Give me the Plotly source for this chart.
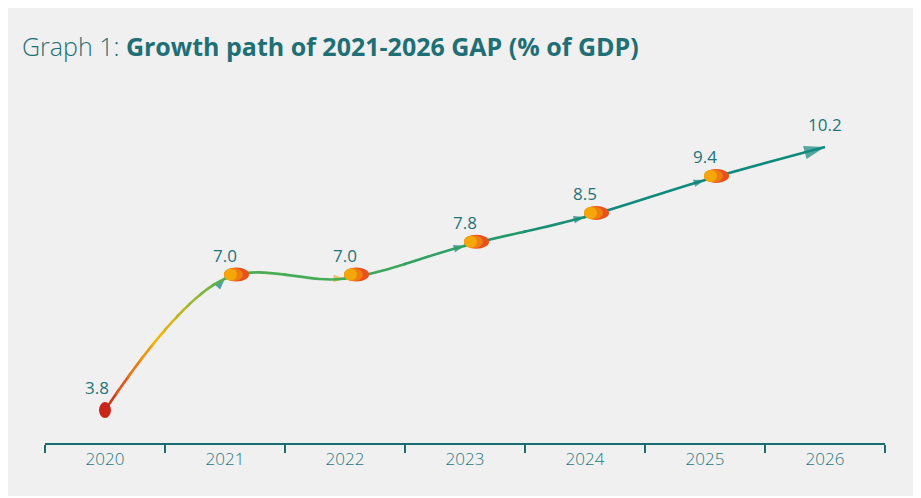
import plotly.graph_objects as go

# ---------------- data ----------------
years = ["2020", "2021", "2022", "2023", "2024", "2025", "2026"]
gap = [3.8, 7.0, 7.0, 7.8, 8.5, 9.4, 10.2]
value_labels = ["3.8", "7.0", "7.0", "7.8", "8.5", "9.4", "10.2"]

# ---------------- styles ----------------
BG = "#f0f0f0"
AXIS = "#1a6e72"
LABEL = "#1f7880"
VALUE = "#23747b"
TITLE = "#1e6f76"
TEAL = "#0f887e"
FONT = "Open Sans"
W, H = 910, 488

idx = list(range(len(years)))
n = len(years)

# colour ramp along the path (position in category units -> colour)
stops = [(-0.5, "#c8261c"), (0.0, "#c8261c"), (0.2, "#e8661c"), (0.45, "#f5b400"),
         (0.72, "#a5b831"), (1.0, "#4cae4f"), (2.0, "#44aa58"), (3.0, "#2a9d68"),
         (4.0, "#138c7a"), (6.5, "#0d887f")]


def hex2rgb(h):
    h = h.lstrip("#")
    return tuple(int(h[i:i + 2], 16) for i in (0, 2, 4))


def colour_at(p):
    for (p0, c0), (p1, c1) in zip(stops[:-1], stops[1:]):
        if p0 <= p <= p1:
            t = 0 if p1 == p0 else (p - p0) / (p1 - p0)
            a, b = hex2rgb(c0), hex2rgb(c1)
            return "rgb(%d,%d,%d)" % tuple(round(a[k] + (b[k] - a[k]) * t) for k in range(3))
    return stops[-1][1]


bounds = [-0.5, 0.0, 0.1, 0.2, 0.3, 0.4, 0.5, 0.6, 0.7, 0.8, 0.9, 1.0,
          1.5, 2.0, 2.5, 3.0, 3.5, 4.0, 6.5]

fig = go.Figure()
layout_axes = {}
eps = 0.012
for k, (a, b) in enumerate(zip(bounds[:-1], bounds[1:])):
    ax = k + 2
    a2 = max(-0.5, a - eps)
    b2 = min(n - 0.5, b + eps)
    fig.add_trace(go.Scatter(
        x=idx, y=gap, mode="lines",
        line=dict(shape="spline", smoothing=1.0, color=colour_at((a + b) / 2), width=2.6),
        xaxis="x%d" % ax, yaxis="y", hoverinfo="skip", showlegend=False))
    layout_axes["xaxis%d" % ax] = dict(
        domain=[(a2 + 0.5) / n, (b2 + 0.5) / n], range=[a2, b2], type="linear",
        visible=False, anchor="y", fixedrange=True)

# arrow heads
arrow_sizes = [0, 12, 12, 12, 12, 12, 22]
arrow_cols = [TEAL, "#0e7d7c", "#d8b22c", "#0e7d7c", "#0e7d7c", "#0e7d7c", TEAL]
fig.add_trace(go.Scatter(
    x=years, y=gap, mode="markers",
    marker=dict(symbol="arrow", angleref="previous", size=arrow_sizes,
                color=arrow_cols, line=dict(width=0)),
    xaxis="x", yaxis="y", hoverinfo="skip", showlegend=False))

shapes = []
# start point: red blob
shapes.append(dict(type="circle", xref="x", yref="y", xsizemode="pixel", ysizemode="pixel",
                   xanchor=idx[0], yanchor=gap[0], x0=-6, x1=6, y0=-8, y1=8,
                   fillcolor="#c9251b", line=dict(width=0), layer="above"))
# orange/yellow ellipses after each arrow
for i in range(1, n - 1):
    for (x0, x1, y0, y1, c) in [(-1, 24, -3, 11, "#e9501c"),
                                (-1, 18, -2.5, 10.5, "#f07d12"),
                                (-1, 12, -2, 10, "#f6a708")]:
        shapes.append(dict(type="circle", xref="x", yref="y", xsizemode="pixel",
                           ysizemode="pixel", xanchor=idx[i], yanchor=gap[i],
                           x0=x0, x1=x1, y0=y0, y1=y1, fillcolor=c,
                           line=dict(width=0), layer="above"))

annotations = []
for i, (v, lab) in enumerate(zip(gap, value_labels)):
    annotations.append(dict(x=idx[i], y=v, xref="x", yref="y", text=lab, showarrow=False,
                            yshift=23, xshift=(-8 if i == 0 else 0),
                            font=dict(family=FONT, size=17, color=VALUE)))

fig.update_layout(
    width=W, height=H,
    paper_bgcolor=BG, plot_bgcolor="rgba(0,0,0,0)",
    margin=dict(l=37, r=33, t=92, b=53),
    showlegend=False,
    title=dict(text="<span style='font-weight:300'>Graph 1: </span><b>Growth path of 2021-2026 GAP (% of GDP)</b>",
               x=14 / W, xanchor="left", y=1 - 39 / H, yanchor="middle",
               font=dict(family=FONT, size=25, color=TITLE)),
    xaxis=dict(type="category", categoryarray=years, categoryorder="array",
               range=[-0.5, n - 0.5], tickson="boundaries", ticks="outside",
               ticklen=8, tickwidth=1.5, tickcolor=AXIS, showline=True,
               linecolor=AXIS, linewidth=2, showgrid=False, zeroline=False,
               tickfont=dict(family=FONT, size=17, color=LABEL, weight=300),
               fixedrange=True, domain=[0, 1]),
    yaxis=dict(range=[3.0, 11.344], visible=False, fixedrange=True),
    shapes=shapes, annotations=annotations,
    **layout_axes,
)

fig.write_html("out.html")
